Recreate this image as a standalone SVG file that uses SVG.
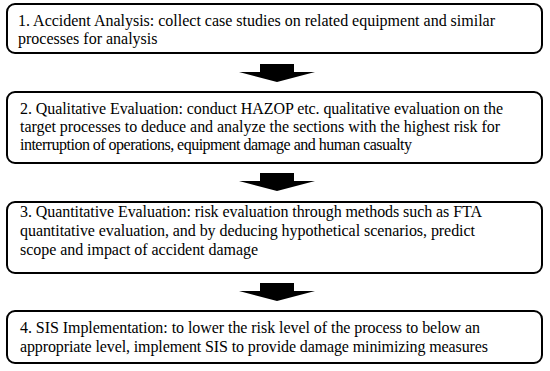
<svg xmlns="http://www.w3.org/2000/svg" xmlns:xlink="http://www.w3.org/1999/xlink" width="550" height="371" viewBox="0 0 550 371">
<style>
.box{fill:#fff;stroke:#000;stroke-width:2}
.arr{fill:#000}
</style>
<defs>
<path id="bigArrow" d="M-17,0 H17 V8 H38 L0,18 L-38,8 H-17 Z"/>
</defs>
<rect width="550" height="371" fill="#fff"/>
<g font-family="Liberation Serif, serif" font-size="16" fill="#000">
<g id="node1">
<rect class="box" x="7" y="4" width="535" height="49" rx="8"/>
<text x="18" y="26" textLength="477" lengthAdjust="spacing">1.  Accident Analysis: collect case studies on related equipment and similar</text>
<text x="18" y="44">processes for analysis</text>
</g>
<g id="node2">
<rect class="box" x="7" y="92" width="535" height="71" rx="8"/>
<text x="20" y="114" textLength="483" lengthAdjust="spacing">2. Qualitative Evaluation: conduct HAZOP etc. qualitative evaluation on the</text>
<text x="20" y="132" textLength="480" lengthAdjust="spacing">target processes to deduce and analyze the sections with the highest risk for</text>
<text x="20" y="150" textLength="392" lengthAdjust="spacing">interruption of operations, equipment damage and human casualty</text>
</g>
<g id="node3">
<rect class="box" x="7" y="202" width="535" height="71" rx="8"/>
<text x="20" y="217" textLength="462" lengthAdjust="spacing">3. Quantitative Evaluation: risk evaluation through methods such as FTA</text>
<text x="20" y="236" textLength="455" lengthAdjust="spacing">quantitative evaluation, and by deducing hypothetical scenarios, predict</text>
<text x="20" y="255" textLength="238" lengthAdjust="spacing">scope and impact of accident damage</text>
</g>
<g id="node4">
<rect class="box" x="7" y="311" width="535" height="52" rx="8"/>
<text x="20" y="333" textLength="460" lengthAdjust="spacing">4. SIS Implementation: to lower the risk level of the process to below an</text>
<text x="20" y="352" textLength="468" lengthAdjust="spacing">appropriate level, implement SIS to provide damage minimizing measures</text>
</g>
</g>
<g id="connectors">
<use xlink:href="#bigArrow" class="arr" transform="translate(277,64)"/>
<use xlink:href="#bigArrow" class="arr" transform="translate(277,173)"/>
<use xlink:href="#bigArrow" class="arr" transform="translate(277,283)"/>
</g>
</svg>
